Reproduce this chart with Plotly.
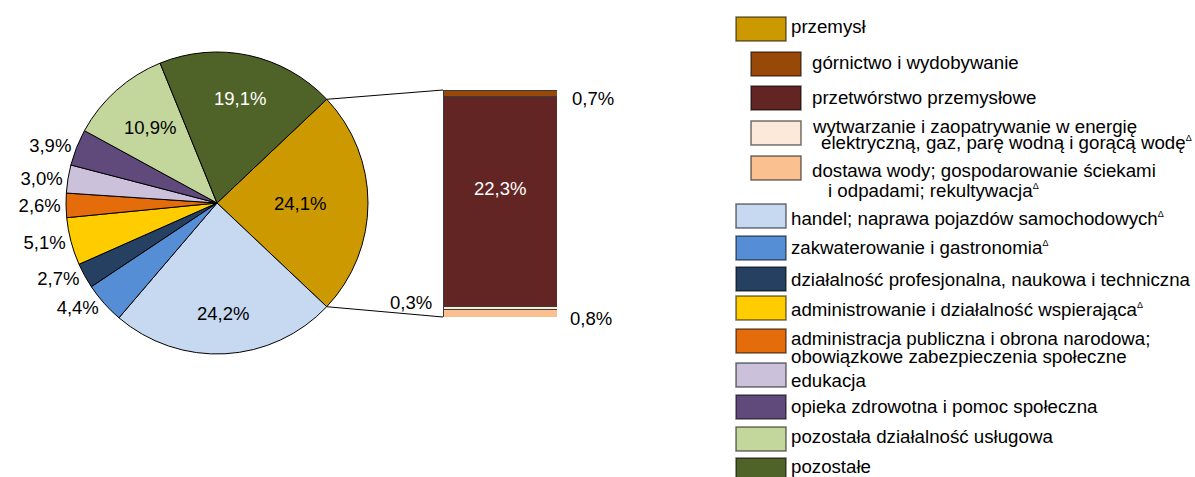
import math
import plotly.graph_objects as go

# ---------------- data ----------------
pie_labels = [
    "przemysł",
    "handel; naprawa pojazdów samochodowych",
    "zakwaterowanie i gastronomia",
    "działalność profesjonalna, naukowa i techniczna",
    "administrowanie i działalność wspierająca",
    "administracja publiczna i obrona narodowa; obowiązkowe zabezpieczenia społeczne",
    "edukacja",
    "opieka zdrowotna i pomoc społeczna",
    "pozostała działalność usługowa",
    "pozostałe",
]
pie_values = [24.1, 24.2, 4.4, 2.7, 5.1, 2.6, 3.0, 3.9, 10.9, 19.1]
pie_colors = ["#CC9900", "#C6D9F1", "#558ED5", "#254061", "#FFCC00",
              "#E46C0A", "#CCC1DA", "#604A7B", "#C3D69B", "#4F6228"]

sub_labels = [
    "górnictwo i wydobywanie",
    "przetwórstwo przemysłowe",
    "wytwarzanie i zaopatrywanie w energię elektryczną, gaz, parę wodną i gorącą wodę",
    "dostawa wody; gospodarowanie ściekami i odpadami; rekultywacja",
]
sub_values = [0.7, 22.3, 0.3, 0.8]
sub_colors = ["#984807", "#632523", "#FDE9D9", "#FAC090"]

DELTA = '<sup><span style="font-size:9px">Δ</span></sup>'
legend_lines = [
    ["przemysł"],
    ["górnictwo i wydobywanie"],
    ["przetwórstwo przemysłowe"],
    ["wytwarzanie i zaopatrywanie w energię", "elektryczną, gaz, parę wodną i gorącą wodę" + DELTA],
    ["dostawa wody; gospodarowanie ściekami", "i odpadami; rekultywacja" + DELTA],
    ["handel; naprawa pojazdów samochodowych" + DELTA],
    ["zakwaterowanie i gastronomia" + DELTA],
    ["działalność profesjonalna, naukowa i techniczna"],
    ["administrowanie i działalność wspierająca" + DELTA],
    ["administracja publiczna i obrona narodowa;", "obowiązkowe zabezpieczenia społeczne"],
    ["edukacja"],
    ["opieka zdrowotna i pomoc społeczna"],
    ["pozostała działalność usługowa"],
    ["pozostałe"],
]
legend_colors = [pie_colors[0]] + sub_colors + pie_colors[1:]
legend_is_sub = [False, True, True, True, True] + [False] * 9

# ---------------- layout constants (pixels) ----------------
W, H = 1195, 477
FONT = "Liberation Sans, Arial, sans-serif"
FS = 18.5
LEG_FS = 18.7

PIE_CX, PIE_CY, PIE_R = 217, 203, 151
BAR_X0, BAR_X1, BAR_Y0, BAR_Y1 = 443, 557, 90, 317   # left, right, top, bottom

INSIDE_R_FRAC = {0: 0.55, 1: 0.73, 8: 0.67, 9: 0.71}
INSIDE_COLOR = {0: "black", 1: "black", 8: "black", 9: "white"}

LEG_ROW_TOP = [17, 52, 86, 121, 156, 204, 236, 267, 296, 329, 363, 395, 427, 458]
LEG_MAIN_X0, LEG_SUB_X0, SW_W, SW_H = 736, 751, 50, 24
LEG_MAIN_TX, LEG_SUB_TX = 789, 810
LEG_LINE_DY = [[-2], [-1.5], [-1], [-6.5, 9.5], [2.5, 22], [2], [-1], [0], [1],
               [-3, 15], [5], [-1], [-3], [-4]]
LEG_LINE_DX = [[0], [0], [0], [0, 9], [0, 16], [0], [0], [0], [0],
               [0, 0], [0], [0], [0], [0]]


def px(x):
    return x / W


def py(y):
    return 1 - y / H


def fmt(v):
    return f"{v:.1f}".replace(".", ",") + "%"


total = sum(pie_values)
rotation = 90 - pie_values[0] / total * 180

fig = go.Figure()

# ---------------- pie ----------------
textpos = ["none" if i in INSIDE_R_FRAC else "outside" for i in range(len(pie_values))]
fig.add_trace(go.Pie(
    labels=pie_labels, values=pie_values, sort=False, direction="clockwise",
    rotation=rotation,
    marker=dict(colors=pie_colors, line=dict(color="black", width=1)),
    text=[fmt(v) for v in pie_values], textinfo="text", textposition=textpos,
    outsidetextfont=dict(family=FONT, size=FS, color="black"),
    domain=dict(x=[px(PIE_CX - PIE_R), px(PIE_CX + PIE_R)],
                y=[py(PIE_CY + PIE_R), py(PIE_CY - PIE_R)]),
    hoverinfo="label+value", showlegend=False,
))

annotations = []
shapes = []

# slice geometry (clock angles, degrees)
angles = []
a = rotation
for v in pie_values:
    span = v / total * 360
    angles.append((a, a + span))
    a += span

for i, f in INSIDE_R_FRAC.items():
    mid = math.radians((angles[i][0] + angles[i][1]) / 2)
    x = PIE_CX + f * PIE_R * math.sin(mid)
    y = PIE_CY - f * PIE_R * math.cos(mid)
    annotations.append(dict(x=px(x), y=py(y), xref="paper", yref="paper",
                            xanchor="center", yanchor="middle",
                            text=fmt(pie_values[i]), showarrow=False,
                            font=dict(family=FONT, size=FS, color=INSIDE_COLOR[i])))

# ---------------- stacked bar (breakdown of przemysł) ----------------
for lab, val, col in reversed(list(zip(sub_labels, sub_values, sub_colors))):
    fig.add_trace(go.Bar(x=[0], y=[val], width=1, name=lab,
                         marker=dict(color=col, line=dict(color="#3a3a3a", width=1)),
                         showlegend=False, hoverinfo="name+y"))

sub_total = sum(sub_values)
bottoms = {}
acc = 0
for idx in reversed(range(len(sub_values))):
    bottoms[idx] = acc
    acc += sub_values[idx]
mid_of = {i: bottoms[i] + sub_values[i] / 2 for i in range(len(sub_values))}

bar_label_cfg = {
    0: dict(x=0.5, xanchor="left", xshift=13, yshift=-5, color="black"),
    1: dict(x=0, xanchor="center", xshift=0, yshift=13, color="white"),
    2: dict(x=-0.5, xanchor="right", xshift=-9, yshift=6, color="black"),
    3: dict(x=0.5, xanchor="left", xshift=11, yshift=-5, color="black"),
}
for i, cfg in bar_label_cfg.items():
    annotations.append(dict(x=cfg["x"], y=mid_of[i], xref="x", yref="y",
                            text=fmt(sub_values[i]), showarrow=False,
                            xanchor=cfg["xanchor"], yanchor="middle",
                            xshift=cfg["xshift"], yshift=cfg["yshift"],
                            font=dict(family=FONT, size=FS, color=cfg["color"])))

# connector lines from przemysł slice edges to bar corners
for ang, by in ((angles[0][0], BAR_Y0), (angles[0][1], BAR_Y1)):
    r = math.radians(ang)
    x = PIE_CX + PIE_R * math.sin(r)
    y = PIE_CY - PIE_R * math.cos(r)
    shapes.append(dict(type="line", xref="paper", yref="paper",
                       x0=px(x), y0=py(y), x1=px(BAR_X0), y1=py(by),
                       line=dict(color="black", width=1)))

# ---------------- legend ----------------
for i, lines in enumerate(legend_lines):
    top = LEG_ROW_TOP[i]
    x0 = LEG_SUB_X0 if legend_is_sub[i] else LEG_MAIN_X0
    tx = LEG_SUB_TX if legend_is_sub[i] else LEG_MAIN_TX
    shapes.append(dict(type="rect", xref="paper", yref="paper",
                       x0=px(x0), x1=px(x0 + SW_W), y0=py(top + SW_H), y1=py(top),
                       fillcolor=legend_colors[i],
                       line=dict(color="rgba(0,0,0,0.55)", width=1.5)))
    cy = top + SW_H / 2
    for j, line in enumerate(lines):
        annotations.append(dict(x=px(tx + LEG_LINE_DX[i][j]), y=py(cy + LEG_LINE_DY[i][j]),
                                xref="paper", yref="paper", text=line, showarrow=False,
                                xanchor="left", yanchor="middle",
                                font=dict(family=FONT, size=LEG_FS, color="black")))

fig.update_layout(
    width=W, height=H, margin=dict(l=0, r=0, t=0, b=0),
    paper_bgcolor="white", plot_bgcolor="rgba(0,0,0,0)",
    barmode="stack", showlegend=False,
    xaxis=dict(domain=[px(BAR_X0), px(BAR_X1)], range=[-0.5, 0.5], visible=False, fixedrange=True),
    yaxis=dict(domain=[py(BAR_Y1), py(BAR_Y0)], range=[0, sub_total], visible=False, fixedrange=True),
    annotations=annotations, shapes=shapes,
    font=dict(family=FONT, size=FS, color="black"),
)

fig.write_html("out.html", post_script="document.body.style.margin='0px';",
               config={"displayModeBar": False})
